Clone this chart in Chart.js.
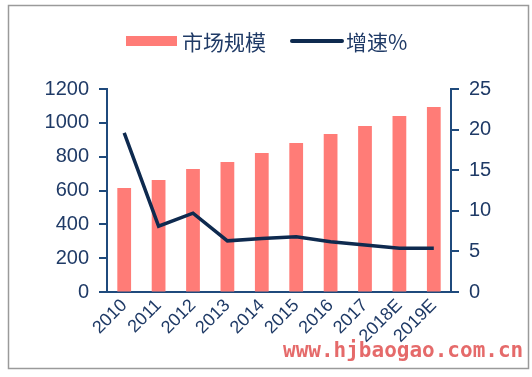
<!DOCTYPE html>
<html>
<head>
<meta charset="utf-8">
<script src="https://cdn.jsdelivr.net/npm/chart.js@4/dist/chart.umd.min.js"></script>
<style>
  html, body { margin: 0; padding: 0; background: #fff; }
  #wrap { position: relative; width: 532px; height: 377px; }
</style>
</head>
<body>
<div id="wrap"><canvas id="chart"></canvas></div>
<script>
// market size (bars, left axis) and growth rate (line, right axis)
const years = ['2010', '2011', '2012', '2013', '2014', '2015', '2016', '2017', '2018E', '2019E'];
const marketSize = [615, 662, 727, 768, 822, 881, 934, 981, 1040, 1094];
const growthRate = [19.6, 8.1, 9.7, 6.3, 6.6, 6.8, 6.2, 5.8, 5.4, 5.4];
const leftTicks = [0, 200, 400, 600, 800, 1000, 1200];
const rightTicks = [0, 5, 10, 15, 20, 25];

const barColor = '#FF7C77';
const lineColor = '#0E2A4F';
const axisColor = '#1F4A7C';
const tickFont = "'Liberation Sans', Arial, sans-serif";

// frame, legend, outer tick marks and watermark drawn by hand
const decorPlugin = {
    id: 'decor',
    afterDraw: function (chart) {
        const ctx = chart.ctx;
        const area = chart.chartArea;
        ctx.save();
        // outer frame
        ctx.strokeStyle = '#9a9a9a';
        ctx.lineWidth = 1.5;
        ctx.strokeRect(8.5, 5.5, 520, 363);

        // tick marks on both value axes
        const yl = chart.scales.y;
        const yr = chart.scales.y1;
        ctx.fillStyle = axisColor;
        leftTicks.forEach(function (v) {
            const py = Math.round(yl.getPixelForValue(v));
            ctx.fillRect(area.left - 8, py - 1, 8, 2);
        });
        rightTicks.forEach(function (v) {
            const py = Math.round(yr.getPixelForValue(v));
            ctx.fillRect(area.right, py - 1, 8, 2);
        });

        // legend
        ctx.fillStyle = barColor;
        ctx.fillRect(126, 36, 51, 10);
        ctx.strokeStyle = lineColor;
        ctx.lineWidth = 4;
        ctx.lineCap = 'round';
        ctx.beginPath();
        ctx.moveTo(292, 41);
        ctx.lineTo(342, 41);
        ctx.stroke();
        ctx.fillStyle = '#1F3A66';
        ctx.font = "21px 'Noto Sans CJK SC', sans-serif";
        ctx.textBaseline = 'middle';
        ctx.textAlign = 'left';
        ctx.fillText('市场规模', 182, 42);
        ctx.fillText('增速%', 346, 42);

        // watermark
        ctx.fillStyle = 'rgba(225, 80, 80, 0.85)';
        ctx.font = "bold 21px 'DejaVu Sans Mono', monospace";
        ctx.textAlign = 'left';
        ctx.fillText('www.hjbaogao.com.cn', 283, 352);
        ctx.restore();
    }
};

function plainLabel(value) {
    return String(value);
}

new Chart(document.getElementById('chart'), {
    data: {
        labels: years,
        datasets: [
            {
                type: 'line',
                label: '增速%',
                data: growthRate,
                yAxisID: 'y1',
                borderColor: lineColor,
                backgroundColor: lineColor,
                borderWidth: 3.5,
                pointRadius: 0,
                tension: 0,
                order: 0
            },
            {
                type: 'bar',
                label: '市场规模',
                data: marketSize,
                yAxisID: 'y',
                backgroundColor: barColor,
                barPercentage: 0.4,
                categoryPercentage: 1,
                order: 1
            }
        ]
    },
    options: {
        responsive: true,
        maintainAspectRatio: false,
        animation: false,
        layout: { padding: { top: 89, left: 0, right: 0, bottom: 0 } },
        plugins: {
            legend: { display: false },
            tooltip: { enabled: false }
        },
        scales: {
            x: {
                offset: true,
                afterFit: function (axis) { axis.height = 85; },
                border: { display: true, color: axisColor, width: 2 },
                grid: { display: false, drawTicks: false },
                ticks: {
                    color: '#1F3A66',
                    font: { family: tickFont, size: 18 },
                    autoSkip: false,
                    minRotation: 45,
                    maxRotation: 45,
                    padding: 3
                }
            },
            y: {
                position: 'left',
                min: 0,
                max: 1200,
                afterFit: function (axis) { axis.width = 107; },
                afterBuildTicks: function (axis) {
                    axis.ticks = leftTicks.map(function (v) { return { value: v }; });
                },
                border: { display: true, color: axisColor, width: 2 },
                grid: { drawOnChartArea: false, color: axisColor, tickLength: 8 },
                ticks: {
                    color: '#1F3A66',
                    font: { family: tickFont, size: 20 },
                    padding: 10,
                    callback: plainLabel
                }
            },
            y1: {
                position: 'right',
                min: 0,
                max: 25,
                afterFit: function (axis) { axis.width = 81; },
                afterBuildTicks: function (axis) {
                    axis.ticks = rightTicks.map(function (v) { return { value: v }; });
                },
                border: { display: true, color: axisColor, width: 2 },
                grid: { drawOnChartArea: false, color: axisColor, tickLength: 8 },
                ticks: {
                    color: '#1F3A66',
                    font: { family: tickFont, size: 20 },
                    padding: 10,
                    callback: plainLabel
                }
            }
        }
    },
    plugins: [decorPlugin]
});
</script>
</body>
</html>
